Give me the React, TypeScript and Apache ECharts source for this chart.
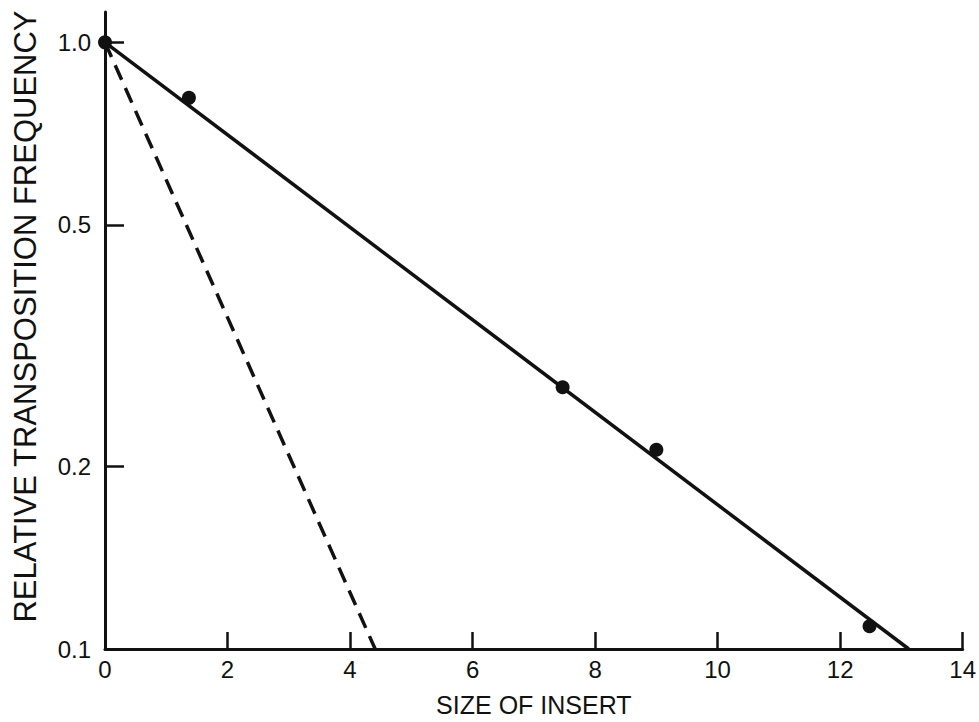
import React, { useEffect, useRef } from "react";
import * as echarts from "echarts";

// Measured points (size of insert, relative transposition frequency)
const insertSizes = [0, 1.37, 7.47, 9.0, 12.48];
const relFrequencies = [1.0, 0.81, 0.27, 0.213, 0.109];

// Fitted solid line and dashed line (endpoints)
const solidLineX = [0, 13.12];
const solidLineY = [1.0, 0.1];
const dashedLineX = [0, 4.41];
const dashedLineY = [1.0, 0.1];

// Axis ticks
const yTickValues = [0.1, 0.2, 0.5, 1.0];
const yTickLabels = ["0.1", "0.2", "0.5", "1.0"];
const xTickLabels = ["0", "2", "4", "6", "8", "10", "12", "14"];

const FONT = "Liberation Sans";
const INK = "#111111";

export default function App() {
  const ref = useRef<HTMLDivElement>(null);

  useEffect(() => {
    if (!ref.current) return;
    const chart = echarts.init(ref.current, null, { renderer: "svg" });
    const lg = (v: number) => Math.log10(v);
    const yTickLogs = yTickValues.map(lg);

    const option: any = {
      animation: false,
      backgroundColor: "#ffffff",
      grid: { left: 105, right: 13, top: 12, bottom: 70, containLabel: false },
      xAxis: {
        type: "value",
        min: 0,
        max: 14,
        interval: 2,
        name: "SIZE OF INSERT",
        nameLocation: "middle",
        nameGap: 43,
        nameTextStyle: { fontFamily: FONT, fontSize: 25, color: INK },
        axisLine: { show: true, onZero: false, lineStyle: { color: INK, width: 3 } },
        axisTick: { show: true, inside: true, length: 17, lineStyle: { color: INK, width: 2.5 } },
        axisLabel: {
          fontFamily: FONT,
          fontSize: 24,
          color: INK,
          margin: 8,
          formatter: (v: number) => xTickLabels[Math.round(v / 2)] ?? "",
        },
        splitLine: { show: false },
      },
      yAxis: {
        type: "value",
        min: -1,
        max: 0.05,
        name: "RELATIVE TRANSPOSITION FREQUENCY",
        nameLocation: "middle",
        nameGap: 64,
        nameTextStyle: { fontFamily: FONT, fontSize: 31, color: INK, padding: [0, 0, 0, 28] },
        axisLine: { show: true, onZero: false, lineStyle: { color: INK, width: 3 } },
        axisTick: {
          show: true,
          inside: true,
          length: 19,
          customValues: yTickLogs,
          lineStyle: { color: INK, width: 2.5 },
        },
        axisLabel: {
          fontFamily: FONT,
          fontSize: 24,
          color: INK,
          margin: 14,
          customValues: yTickLogs,
          formatter: (v: number) => {
            let best = 0;
            yTickLogs.forEach((t, i) => {
              if (Math.abs(t - v) < Math.abs(yTickLogs[best] - v)) best = i;
            });
            return yTickLabels[best];
          },
        },
        splitLine: { show: false },
      },
      series: [
        {
          type: "line",
          data: solidLineX.map((x, i) => [x, lg(solidLineY[i])]),
          symbol: "none",
          lineStyle: { color: INK, width: 3.5 },
          z: 2,
        },
        {
          type: "line",
          data: dashedLineX.map((x, i) => [x, lg(dashedLineY[i])]),
          symbol: "none",
          lineStyle: { color: INK, width: 3.5, type: [16, 9] },
          z: 2,
        },
        {
          type: "scatter",
          data: insertSizes.map((x, i) => [x, lg(relFrequencies[i])]),
          symbol: "circle",
          symbolSize: 14,
          itemStyle: { color: INK, opacity: 1 },
          z: 3,
        },
      ],
    };
    chart.setOption(option);
    return () => chart.dispose();
  }, []);

  return (
    <div
      ref={ref}
      style={{ position: "fixed", left: 0, top: 0, width: 979, height: 722, background: "#fff" }}
    />
  );
}
